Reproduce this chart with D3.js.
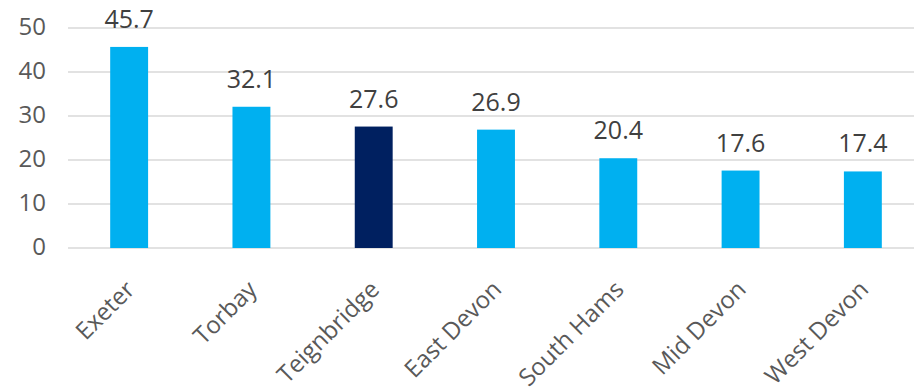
<!DOCTYPE html>
<html>
<head>
<meta charset="utf-8">
<script src="https://cdn.jsdelivr.net/npm/d3@7"></script>
<style>
  body { margin: 0; background: #fff; }
  svg { display: block; }
</style>
</head>
<body>
<div id="chart"></div>
<script>
var areas = ["Exeter", "Torbay", "Teignbridge", "East Devon", "South Hams", "Mid Devon", "West Devon"];
var values = [45.7, 32.1, 27.6, 26.9, 20.4, 17.6, 17.4];
var highlight = ["Teignbridge"];
var yTicks = [0, 10, 20, 30, 40, 50];

var width = 914, height = 391;
var margin = { top: 28, right: -10, bottom: 143, left: 68 };

var svg = d3.select("#chart").append("svg")
  .attr("width", width)
  .attr("height", height);

var x = d3.scaleBand()
  .domain(areas)
  .range([margin.left, width - margin.right])
  .paddingInner(0.69)
  .paddingOuter(0.345);

var y = d3.scaleLinear()
  .domain([0, 50])
  .range([height - margin.bottom, margin.top]);

// gridlines
svg.append("g")
  .selectAll("line")
  .data(yTicks)
  .join("line")
  .attr("x1", margin.left)
  .attr("x2", width)
  .attr("y1", d => y(d))
  .attr("y2", d => y(d))
  .attr("stroke", "#d9d9d9")
  .attr("stroke-width", 1.3);

// y tick labels
svg.append("g")
  .selectAll("text")
  .data(yTicks)
  .join("text")
  .attr("x", 46)
  .attr("y", d => y(d))
  .attr("dy", "0.3em")
  .attr("text-anchor", "end")
  .attr("font-family", "'Open Sans', sans-serif")
  .attr("font-size", 24)
  .attr("fill", "#595959")
  .text(d => d);

// bars
svg.append("g")
  .selectAll("rect")
  .data(values)
  .join("rect")
  .attr("x", (d, i) => x(areas[i]))
  .attr("width", x.bandwidth())
  .attr("y", d => y(d))
  .attr("height", d => y(0) - y(d))
  .attr("fill", (d, i) => highlight.includes(areas[i]) ? "#002060" : "#00b0f0");

// value labels
svg.append("g")
  .selectAll("text")
  .data(values)
  .join("text")
  .attr("x", (d, i) => x(areas[i]) + x.bandwidth() / 2)
  .attr("y", d => y(d) - 19)
  .attr("text-anchor", "middle")
  .attr("font-family", "'Open Sans', sans-serif")
  .attr("font-size", 25)
  .attr("fill", "#404040")
  .text(d => d.toFixed(1));

// category labels, rotated like the original
svg.append("g")
  .selectAll("text")
  .data(areas)
  .join("text")
  .attr("transform", d => "translate(" + (x(d) + x.bandwidth() / 2 + 1) + "," + (y(0) + 37) + ") rotate(-45)")
  .attr("text-anchor", "end")
  .attr("dy", "0.35em")
  .attr("font-family", "'Open Sans', sans-serif")
  .attr("font-size", 24)
  .attr("fill", "#595959")
  .text(d => d);
</script>
</body>
</html>
